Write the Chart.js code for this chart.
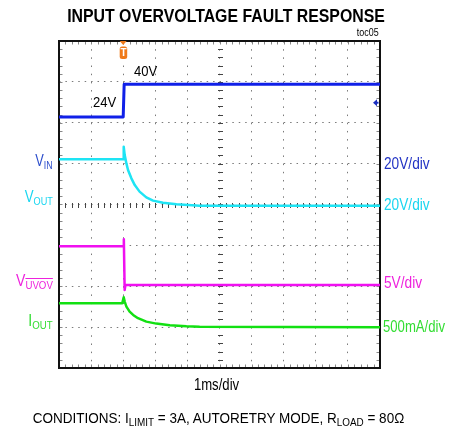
<!DOCTYPE html>
<html><head><meta charset="utf-8">
<script src="https://cdn.jsdelivr.net/npm/chart.js@4/dist/chart.umd.min.js"></script>
<style>
html,body{margin:0;padding:0;background:#fff;}
#wrap{position:relative;width:450px;height:434px;overflow:hidden;font-family:"Liberation Sans",Arial,sans-serif;color:#000;}
#c{position:absolute;left:0;top:0;}
.t{position:absolute;white-space:nowrap;line-height:1;}
.L{transform-origin:left top;}
.R{transform-origin:right top;}
.C{transform-origin:center top;}
.s{font-size:11px;vertical-align:-3px;}
.ov{text-decoration:overline;}
</style></head><body>
<div id="wrap">
<canvas id="c" width="450" height="434"></canvas>
<div class="t C" style="left:0;width:452px;text-align:center;top:6.5px;font-size:18.5px;font-weight:bold;transform:scaleX(0.857)">INPUT OVERVOLTAGE FAULT RESPONSE</div>
<div class="t R" style="right:71px;top:27px;font-size:10.5px;transform:scaleX(0.85)">toc05</div>
<div class="t L" style="left:134px;top:62.5px;font-size:15px;transform:scaleX(0.87)">40V</div>
<div class="t L" style="left:93px;top:94px;font-size:15px;transform:scaleX(0.87)">24V</div>
<div class="t R" style="right:397px;top:153px;font-size:16px;color:#2e4fcc;transform:scaleX(0.8)">V<span class="s">IN</span></div>
<div class="t R" style="right:397px;top:188.5px;font-size:16px;color:#1ad6f0;transform:scaleX(0.83)">V<span class="s">OUT</span></div>
<div class="t R" style="right:397px;top:272.5px;font-size:16px;color:#ee22dd;transform:scaleX(0.88)">V<span class="s ov">UVOV</span></div>
<div class="t R" style="right:397px;top:313px;font-size:16px;color:#33dd33;transform:scaleX(0.88)">I<span class="s">OUT</span></div>
<div class="t L" style="left:384px;top:156px;font-size:16px;color:#2233c4;transform:scaleX(0.855)">20V/div</div>
<div class="t L" style="left:384px;top:197px;font-size:16px;color:#1ad6f0;transform:scaleX(0.855)">20V/div</div>
<div class="t L" style="left:384px;top:275px;font-size:16px;color:#ee22dd;transform:scaleX(0.855)">5V/div</div>
<div class="t L" style="left:383px;top:319px;font-size:16px;color:#33dd33;transform:scaleX(0.82)">500mA/div</div>
<div class="t C" style="left:0;width:433px;text-align:center;top:377px;font-size:16px;transform:scaleX(0.82)">1ms/div</div>
<div class="t C" style="left:0;width:437px;text-align:center;top:410px;font-size:15px;transform:scaleX(0.9)">CONDITIONS: I<span class="s">LIMIT</span> = 3A, AUTORETRY MODE, R<span class="s">LOAD</span> = 80Ω</div>
</div>
<script>
// ---- data read from the scope capture (time in ms, trigger at 0) ----
const timeDivs = [-2, -1, 0, 1, 2, 3, 4, 5, 6, 7, 8];
const vinTime  = [-2, 0, 0.03, 8];
const vinVolts = [24, 24, 40, 40];
const voutTime  = [-2, 0, 0.016, 0.047, 0.10, 0.15, 0.255, 0.36, 0.51, 0.72, 0.93, 1.24, 1.66, 2.38, 8];
const voutVolts = [22.2, 22.2, 28.3, 24.2, 20.1, 16.9, 12.8, 9.5, 6.3, 3.5, 1.9, 0.9, 0.1, -0.6, -0.6];
const uvovTime  = [-2, 0, 0.02, 0.045, 0.07, 8];
const uvovVolts = [4.9, 4.9, 5.75, -0.45, 0.15, 0.15];
const ioutTime  = [-2, -0.03, 0.016, 0.047, 0.10, 0.20, 0.31, 0.46, 0.72, 1.03, 1.45, 1.97, 2.38, 8];
const ioutAmps  = [0.292, 0.292, 0.366, 0.312, 0.251, 0.189, 0.149, 0.109, 0.067, 0.043, 0.023, 0.011, 0.006, 0.0];
// channel settings: ground position (divisions from centre) and units per division
const chGround = {vin: 0.94, vout: 0, uvov: -2, iout: -3};
const chPerDiv = {vin: 20, vout: 20, uvov: 5, iout: 0.5};
const triggerTime = 0;
const triggerLevelVolts = 31;

function toPts(ts, vs, ch){ return ts.map((t,i)=>({x:t, y: chGround[ch] + vs[i]/chPerDiv[ch]})); }

const scopePlugin = {
  id: 'scope',
  beforeDatasetsDraw(chart){
    const {ctx, chartArea:a, scales:{x, y}} = chart;
    ctx.save();
    ctx.lineWidth = 1;
    // border ticks (grey)
    ctx.strokeStyle = '#888';
    ctx.beginPath();
    for (let v = -2; v <= 8.001; v += 0.2) {
      const px = Math.round(x.getPixelForValue(v)) + 0.5;
      ctx.moveTo(px, a.top); ctx.lineTo(px, a.top + 3.5);
      ctx.moveTo(px, a.bottom); ctx.lineTo(px, a.bottom - 3.5);
    }
    for (let v = -4; v <= 4.001; v += 0.2) {
      const py = Math.round(y.getPixelForValue(v)) + 0.5;
      ctx.moveTo(a.left, py); ctx.lineTo(a.left + 3.5, py);
      ctx.moveTo(a.right, py); ctx.lineTo(a.right - 3.5, py);
    }
    ctx.stroke();
    // centre cross ticks (dark)
    ctx.strokeStyle = '#444';
    ctx.beginPath();
    const cy = Math.round(y.getPixelForValue(0));
    const cx = Math.round(x.getPixelForValue(3));
    for (let v = -2; v <= 8.001; v += 0.2) {
      const px = Math.round(x.getPixelForValue(v)) + 0.5;
      ctx.moveTo(px, cy - 2); ctx.lineTo(px, cy + 3);
    }
    for (let v = -4; v <= 4.001; v += 0.2) {
      const py = Math.round(y.getPixelForValue(v)) + 0.5;
      ctx.moveTo(cx - 2, py); ctx.lineTo(cx + 3, py);
    }
    ctx.stroke();
    ctx.strokeStyle = '#111';
    ctx.lineWidth = 2;
    ctx.strokeRect(a.left, a.top, a.right - a.left, a.bottom - a.top);
    ctx.restore();
  },
  afterDatasetsDraw(chart){
    const {ctx, chartArea:a, scales:{x, y}} = chart;
    ctx.save();
    const tx = x.getPixelForValue(triggerTime);
    ctx.fillStyle = '#f07a1a';
    ctx.beginPath();
    ctx.moveTo(tx - 3.5, a.top); ctx.lineTo(tx + 3.5, a.top); ctx.lineTo(tx, a.top + 4); ctx.closePath(); ctx.fill();
    ctx.beginPath();
    ctx.roundRect(tx - 3.5, a.top + 5.5, 7.5, 12.5, 2.5); ctx.fill();
    ctx.fillStyle = '#fff'; ctx.font = 'bold 10px "Liberation Sans"'; ctx.textAlign = 'center'; ctx.textBaseline = 'middle';
    ctx.fillText('T', tx + 0.3, a.top + 12);
    const ty = y.getPixelForValue(chGround.vin + triggerLevelVolts / chPerDiv.vin);
    ctx.fillStyle = '#1b2fc0';
    ctx.beginPath();
    ctx.moveTo(a.right - 7, ty); ctx.lineTo(a.right - 3, ty - 3.5); ctx.lineTo(a.right - 3, ty + 3.5); ctx.closePath(); ctx.fill();
    ctx.fillRect(a.right - 3.5, ty - 1, 2, 2);
    ctx.restore();
  }
};

const lineDs = (pts, color, w) => ({data: pts, borderColor: color, borderWidth: w, pointRadius: 0, tension: 0, borderJoinStyle: 'round', fill: false});

new Chart(document.getElementById('c'), {
  type: 'line',
  data: {
    datasets: [
      lineDs(toPts(vinTime, vinVolts, 'vin'), '#1020e8', 3),
      lineDs(toPts(voutTime, voutVolts, 'vout'), '#1ee4f4', 2.5),
      lineDs(toPts(uvovTime, uvovVolts, 'uvov'), '#f010f0', 2.5),
      lineDs(toPts(ioutTime, ioutAmps, 'iout'), '#12e012', 2.5)
    ]
  },
  options: {
    responsive: false, animation: false, devicePixelRatio: 1,
    layout: {padding: {left: 59, right: 70, top: 41, bottom: 66}},
    plugins: {legend: {display: false}, tooltip: {enabled: false}, title: {display: false}},
    scales: {
      x: {type: 'linear', min: timeDivs[0], max: timeDivs[timeDivs.length-1],
          afterBuildTicks: s => { s.ticks = timeDivs.map(v => ({value: v})); },
          afterFit: s => { s.height = 0; },
          ticks: {display: false},
          border: {display: false, dash: [1.5, 6.675]},
          grid: {color: '#7a7a7a', lineWidth: 1, drawTicks: false}},
      y: {type: 'linear', min: -4, max: 4,
          ticks: {display: false, stepSize: 1},
          border: {display: false, dash: [1.5, 4.92]},
          afterFit: s => { s.width = 0; },
          grid: {color: '#7a7a7a', lineWidth: 1, drawTicks: false}}
    }
  },
  plugins: [scopePlugin]
});
</script>
</body></html>
